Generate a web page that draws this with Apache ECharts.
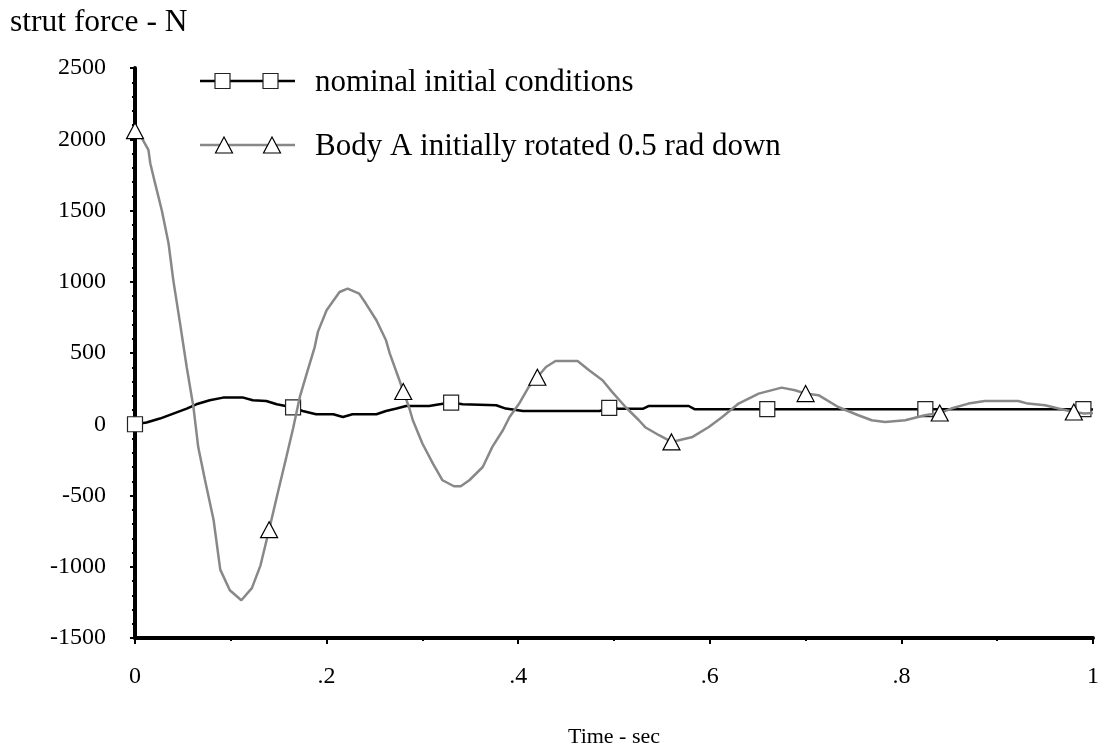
<!DOCTYPE html>
<html>
<head>
<meta charset="utf-8">
<script src="https://cdn.jsdelivr.net/npm/echarts@6/dist/echarts.min.js"></script>
<style>
html,body{margin:0;padding:0;background:#fff;}
#chart{width:1102px;height:753px;}
</style>
</head>
<body>
<div id="chart"></div>
<script>
// ---- data ----
const titleText = 'strut force - N';
const xName = 'Time - sec';
const nominalName = 'nominal initial conditions';
const bodyName = 'Body A initially rotated 0.5 rad down';
const yTicks = [-1500, -1000, -500, 0, 500, 1000, 1500, 2000, 2500];
const xTicks = [0, 0.2, 0.4, 0.6, 0.8, 1];

const nominalT = [0, 0.012, 0.026, 0.040, 0.054, 0.064, 0.078, 0.092, 0.113, 0.123, 0.137, 0.148, 0.165, 0.175, 0.189, 0.207, 0.217, 0.227, 0.252, 0.262, 0.273, 0.283, 0.307, 0.318, 0.330, 0.342, 0.377, 0.387, 0.405, 0.485, 0.495, 0.505, 0.530, 0.536, 0.578, 0.584, 0.660, 0.825, 0.990, 1.0];
const nominalV = [0, 12, 40, 75, 110, 140, 168, 187, 187, 168, 163, 140, 118, 93, 70, 70, 51, 70, 70, 93, 110, 128, 128, 140, 152, 140, 133, 110, 93, 93, 115, 108, 108, 128, 128, 106, 106, 106, 106, 104];
const nominalMarkT = [0, 0.165, 0.330, 0.495, 0.660, 0.825, 0.990];

const bodyT = [0, 0.007, 0.014, 0.016, 0.021, 0.028, 0.035, 0.040, 0.047, 0.054, 0.061, 0.066, 0.073, 0.082, 0.089, 0.099, 0.111, 0.122, 0.131, 0.140, 0.148, 0.158, 0.165, 0.172, 0.179, 0.1875, 0.191, 0.200, 0.2135, 0.222, 0.234, 0.241, 0.252, 0.262, 0.266, 0.276, 0.280, 0.286, 0.290, 0.300, 0.311, 0.321, 0.333, 0.340, 0.349, 0.363, 0.373, 0.384, 0.391, 0.401, 0.411, 0.420, 0.429, 0.439, 0.462, 0.474, 0.488, 0.498, 0.512, 0.526, 0.533, 0.547, 0.560, 0.582, 0.599, 0.613, 0.630, 0.651, 0.675, 0.689, 0.700, 0.7135, 0.734, 0.755, 0.769, 0.783, 0.804, 0.8245, 0.840, 0.852, 0.870, 0.887, 0.922, 0.932, 0.950, 0.964, 0.980, 0.991, 1.0];
const bodyV = [2060, 2010, 1925, 1830, 1690, 1500, 1270, 1010, 710, 400, 120, -160, -390, -670, -1020, -1165, -1235, -1150, -990, -740, -510, -230, -30, 190, 350, 540, 650, 800, 928, 952, 917, 847, 730, 589, 496, 309, 230, 121, 28, -135, -276, -393, -435, -435, -393, -300, -159, -42, 51, 145, 262, 330, 402, 444, 444, 379, 309, 227, 121, 28, -23, -77, -124, -89, -19, 51, 145, 215, 257, 239, 215, 204, 121, 63, 28, 16, 28, 63, 79, 110, 145, 163, 163, 145, 133, 110, 86, 75, 79];
const bodyMarkT = [0, 0.14, 0.28, 0.42, 0.56, 0.70, 0.84, 0.98];

// ---- build series data ----
function near(t, list) { return list.some(m => Math.abs(m - t) < 0.0015); }
function build(ts, vs, marks) {
  return ts.map((t, i) => near(t, marks) ? { value: [t, vs[i]] } : { value: [t, vs[i]], symbol: 'none' });
}

const FONT = '"Liberation Serif", "Times New Roman", serif';
const chart = echarts.init(document.getElementById('chart'), null, { renderer: 'canvas' });

const option = {
  backgroundColor: '#fff',
  animation: false,
  grid: { left: 135, right: 7, top: 68, bottom: 115, containLabel: false },
  xAxis: {
    type: 'value', min: xTicks[0], max: xTicks[xTicks.length - 1], interval: 0.2,
    name: xName, nameLocation: 'middle', nameGap: 88,
    nameTextStyle: { fontFamily: FONT, fontSize: 22, color: '#000' },
    axisLine: { show: true, onZero: false, lineStyle: { color: '#000', width: 4 } },
    axisTick: { show: true, inside: false, length: 6, lineStyle: { color: '#000', width: 2 } },
    minorTick: { show: true, splitNumber: 2, length: 3, lineStyle: { color: '#000', width: 2 } },
    splitLine: { show: false },
    axisLabel: {
      margin: 27, fontFamily: FONT, fontSize: 24, color: '#000',
      formatter: v => (v === 0 ? '0' : v === 1 ? '1' : v.toFixed(1).replace(/^0/, ''))
    }
  },
  yAxis: {
    type: 'value', min: yTicks[0], max: yTicks[yTicks.length - 1], interval: 500,
    axisLine: { show: true, onZero: false, lineStyle: { color: '#000', width: 4 } },
    axisTick: { show: true, inside: false, length: 5, lineStyle: { color: '#000', width: 2 } },
    minorTick: { show: true, splitNumber: 5, length: 3, lineStyle: { color: '#000', width: 2 } },
    splitLine: { show: false },
    axisLabel: { margin: 29, fontFamily: FONT, fontSize: 24, color: '#000', formatter: v => String(v) }
  },
  series: [
    {
      name: nominalName, type: 'line', z: 3,
      data: build(nominalT, nominalV, nominalMarkT),
      symbol: 'rect', symbolSize: 15, showSymbol: true, showAllSymbol: true,
      lineStyle: { color: '#000', width: 2.5 },
      itemStyle: { color: '#fff', borderColor: '#222', borderWidth: 1.2 }
    },
    {
      name: bodyName, type: 'line', z: 4,
      data: build(bodyT, bodyV, bodyMarkT),
      symbol: 'triangle', symbolSize: [17, 16], showSymbol: true, showAllSymbol: true,
      lineStyle: { color: '#888', width: 2.5 },
      itemStyle: { color: '#fff', borderColor: '#000', borderWidth: 1.2 }
    }
  ],
  graphic: [
    { type: 'text', style: { x: 10, y: 23, text: titleText, font: '31.5px ' + FONT, fill: '#000', verticalAlign: 'middle' }, z: 11 },
    { type: 'line', shape: { x1: 200, y1: 81, x2: 295, y2: 81 }, style: { stroke: '#000', lineWidth: 2.5 }, z: 10 },
    { type: 'rect', shape: { x: 215, y: 73.5, width: 15, height: 15 }, style: { fill: '#fff', stroke: '#222', lineWidth: 1.2 }, z: 11 },
    { type: 'rect', shape: { x: 263, y: 73.5, width: 15, height: 15 }, style: { fill: '#fff', stroke: '#222', lineWidth: 1.2 }, z: 11 },
    { type: 'text', style: { x: 315, y: 83, text: nominalName, font: '31px ' + FONT, fill: '#000', verticalAlign: 'middle' }, z: 11 },
    { type: 'line', shape: { x1: 200, y1: 145, x2: 295, y2: 145 }, style: { stroke: '#888', lineWidth: 2.5 }, z: 10 },
    { type: 'polygon', shape: { points: [[224, 137], [232.5, 153], [215.5, 153]] }, style: { fill: '#fff', stroke: '#000', lineWidth: 1.2 }, z: 11 },
    { type: 'polygon', shape: { points: [[272, 137], [280.5, 153], [263.5, 153]] }, style: { fill: '#fff', stroke: '#000', lineWidth: 1.2 }, z: 11 },
    { type: 'text', style: { x: 315, y: 147, text: bodyName, font: '31px ' + FONT, fill: '#000', verticalAlign: 'middle' }, z: 11 }
  ]
};
chart.setOption(option);
</script>
</body>
</html>
